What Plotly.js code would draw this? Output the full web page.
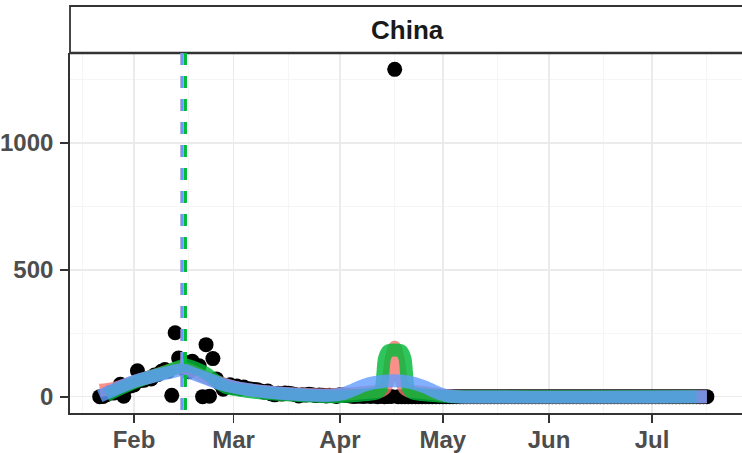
<!DOCTYPE html>
<html>
<head>
<meta charset="utf-8">
<script src="https://cdn.plot.ly/plotly-3.0.1.min.js"></script>
<style>html,body{margin:0;padding:0;background:#fff;}#chart{width:742px;height:453px;}</style>
</head>
<body>
<div id="chart"></div>
<script>
// ---- Daily deaths, China (points) ----
const deathsJan = [0, 1, 8, 16, 14, 26, 49, 2, 38, 42]; // Jan 22-31
const deathsFeb = [46, 102, 64, 65, 72, 70, 85, 87, 100, 107, 100, 5, 252, 152, 142, 103, 98, 139, 112, 122, 0, 205, 2, 150, 70, 52, 29, 44, 47];
const deathsMar = [35, 42, 31, 38, 31, 30, 28, 27, 22, 17, 22, 11, 7, 13, 10, 14, 13, 11, 8, 3, 7, 6, 9, 7, 4, 6, 5, 3, 5, 4, 1];
const deathsApr = [7, 6, 4, 3, 1, 2, 2, 1, 3, 1, 3, 0, 2, 0, 1, 1, 1290, 0, 0, 0, 0, 0, 0, 0, 0, 0, 0, 0, 0, 0];
const deathsMay = [0,0,0,0,0,0,0,0,0,0,0,0,0,0,0,0,0,0,0,0,0,0,0,0,0,0,0,0,0,0,0];
const deathsJun = [0,0,0,0,0,0,0,0,0,0,0,0,0,0,0,0,0,0,0,0,0,0,0,0,0,0,0,0,0,0];
const deathsJul = [0,0,0,0,0,0,0,0,0,0,0,0,0,0,0,0,0]; // Jul 1-17

// ---- Fitted curves ----
const redDates = ['2020-01-22','2020-01-26','2020-02-01','2020-02-08','2020-02-15','2020-02-22','2020-03-01','2020-03-08','2020-03-15','2020-03-22','2020-03-29','2020-04-05','2020-04-10','2020-04-13','2020-04-14','2020-04-15','2020-04-16','2020-04-17','2020-04-18','2020-04-19','2020-04-20','2020-04-21','2020-04-24','2020-04-28','2020-05-02','2020-05-06','2020-07-17'];
const redVals  = [25, 32, 58, 88, 115, 75, 38, 22, 13, 8, 7, 12, 18, 22, 30, 60, 150, 195, 150, 60, 30, 22, 18, 12, 4, 0, 0];

const greenDates = ['2020-01-24','2020-01-27','2020-02-01','2020-02-05','2020-02-09','2020-02-13','2020-02-16','2020-02-19','2020-02-22','2020-02-25','2020-02-28','2020-03-03','2020-03-08','2020-03-13','2020-03-18','2020-03-24','2020-03-30','2020-04-04','2020-04-08','2020-04-11','2020-04-12','2020-04-13','2020-04-14','2020-04-15','2020-04-16','2020-04-17','2020-04-18','2020-04-19','2020-04-20','2020-04-21','2020-04-22','2020-04-23','2020-04-26','2020-04-30','2020-05-04','2020-07-14'];
const greenVals  = [5, 25, 55, 75, 92, 112, 125, 112, 92, 60, 35, 25, 16, 10, 6, 2, 0, 2, 7, 12, 16, 30, 150, 180, 183, 184, 183, 180, 150, 30, 16, 12, 7, 2, 0, 0];

const blueDates = ['2020-01-22','2020-01-25','2020-01-28','2020-02-01','2020-02-05','2020-02-09','2020-02-12','2020-02-15','2020-02-18','2020-02-22','2020-02-26','2020-03-01','2020-03-05','2020-03-10','2020-03-15','2020-03-20','2020-03-25','2020-03-29','2020-04-02','2020-04-05','2020-04-08','2020-04-11','2020-04-14','2020-04-17','2020-04-20','2020-04-23','2020-04-26','2020-04-29','2020-05-02','2020-05-05','2020-07-17'];
const blueVals  = [2, 20, 38, 60, 75, 89, 98, 106, 92, 72, 52, 38, 28, 19, 13, 8, 5, 5, 12, 27, 44, 55, 61, 63, 60, 51, 37, 18, 4, 0, 0];

// ---- Change-point dates (dashed lines) ----
const vlineDates  = ['2020-02-15', '2020-02-16', '2020-02-15'];
const vlineColors = ['#F8766D', '#00BA38', '#619CFF'];

const facetLabel = 'China';
const yTickVals = [0, 500, 1000];

// build point series
function monthDates(prefix, startDay, n) {
  const out = [];
  for (let i = 0; i < n; i++) {
    const d = startDay + i;
    out.push(prefix + (d < 10 ? '0' + d : d));
  }
  return out;
}
const ptX = [].concat(
  monthDates('2020-01-', 22, deathsJan.length),
  monthDates('2020-02-', 1, deathsFeb.length),
  monthDates('2020-03-', 1, deathsMar.length),
  monthDates('2020-04-', 1, deathsApr.length),
  monthDates('2020-05-', 1, deathsMay.length),
  monthDates('2020-06-', 1, deathsJun.length),
  monthDates('2020-07-', 1, deathsJul.length)
);
const ptY = [].concat(deathsJan, deathsFeb, deathsMar, deathsApr, deathsMay, deathsJun, deathsJul);

const lineW = 13;
const traces = [
  {x: ptX, y: ptY, type: 'scatter', mode: 'markers', marker: {color: '#000000', size: 15}, hoverinfo: 'skip'},
  {x: redDates, y: redVals, type: 'scatter', mode: 'lines', line: {color: '#F8766D', width: lineW, shape: 'spline', smoothing: 0.7}, opacity: 0.8, hoverinfo: 'skip'},
  {x: greenDates, y: greenVals, type: 'scatter', mode: 'lines', line: {color: '#00BA38', width: lineW, shape: 'spline', smoothing: 0.7}, opacity: 0.82, hoverinfo: 'skip'},
  {x: blueDates, y: blueVals, type: 'scatter', mode: 'lines', line: {color: '#619CFF', width: lineW, shape: 'spline', smoothing: 0.7}, opacity: 0.8, hoverinfo: 'skip'}
];

const stripTop = 1 + 47 / 360;
const shapes = [
  {type: 'rect', xref: 'paper', yref: 'paper', x0: 0, x1: 1.05, y0: 1, y1: stripTop, fillcolor: '#ffffff', line: {color: '#333333', width: 1.8}, layer: 'above'},
  {type: 'line', xref: 'paper', yref: 'paper', x0: 0, x1: 1.05, y0: 1, y1: 1, line: {color: '#333333', width: 2.6}, layer: 'above'}
];
vlineDates.forEach((d, i) => {
  shapes.push({type: 'line', xref: 'x', yref: 'paper', x0: d, x1: d, y0: 1, y1: 0,
    line: {color: vlineColors[i], width: 3, dash: '12px,11px'}, layer: 'above'});
});

const tickFont = {family: 'Liberation Sans, Arial, sans-serif', size: 24, color: '#4d4d4d', weight: 'bold'};

const layout = {
  width: 742, height: 453,
  margin: {l: 70, r: 0, t: 53, b: 40, pad: 0},
  paper_bgcolor: '#ffffff', plot_bgcolor: '#ffffff',
  showlegend: false,
  xaxis: {
    type: 'date',
    range: ['2020-01-13 08:10', '2020-07-27 05:45'],
    tick0: '2020-02-01', dtick: 'M1', tickformat: '%b',
    showgrid: true, gridcolor: '#ebebeb', gridwidth: 1.6,
    minor: {tick0: '2020-01-17', dtick: 'M1', showgrid: true, gridcolor: '#f4f4f4', gridwidth: 0.9, ticks: ''},
    zeroline: false, showline: true, linecolor: '#333333', linewidth: 1.8,
    ticks: 'outside', ticklen: 8, tickwidth: 1.8, tickcolor: '#333333',
    tickfont: tickFont, automargin: false, ticklabelstandoff: -4
  },
  yaxis: {
    range: [-64.5, 1354.5],
    tickmode: 'array', tickvals: yTickVals, ticktext: yTickVals.map(String),
    showgrid: true, gridcolor: '#ebebeb', gridwidth: 1.6,
    minor: {tick0: 0, dtick: 250, showgrid: true, gridcolor: '#f4f4f4', gridwidth: 0.9, ticks: ''},
    zeroline: false, showline: true, linecolor: '#333333', linewidth: 1.8,
    ticks: 'outside', ticklen: 8, tickwidth: 1.8, tickcolor: '#333333',
    tickfont: tickFont, automargin: false, ticklabelstandoff: 2
  },
  shapes: shapes,
  annotations: [
    {text: facetLabel, xref: 'paper', yref: 'paper', x: 0.5015, y: 1 + 23 / 360, xanchor: 'center', yanchor: 'middle',
     showarrow: false, font: {family: 'Liberation Sans, Arial, sans-serif', size: 26, color: '#1a1a1a', weight: 'bold'}}
  ]
};

Plotly.newPlot('chart', traces, layout, {staticPlot: true, displayModeBar: false});
</script>
</body>
</html>
